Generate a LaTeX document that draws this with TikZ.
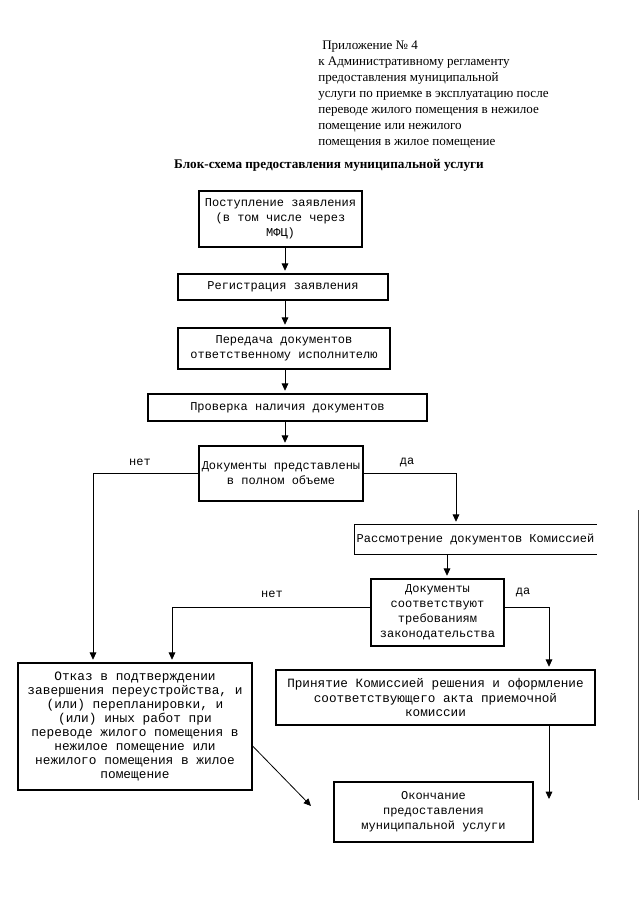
\documentclass[tikz,border=0pt]{standalone}
\usepackage{fontspec}
\setmainfont{Liberation Serif}
\setmonofont{Liberation Mono}
\usetikzlibrary{arrows.meta,positioning}
\tikzset{
  >={Triangle[length=5.5pt,width=5pt]},
  box/.style={draw, line width=0.9pt, align=center, inner sep=0pt,
              font=\ttfamily\fontsize{9}{11.2}\selectfont},
  openbox/.style={box, draw=none},
  boxline/.style={line width=0.9pt},
  boxsize/.style 2 args={minimum width=#1*0.75pt, minimum height=#2*0.75pt},
  lbl/.style={font=\ttfamily\fontsize{9}{11}\selectfont, inner sep=1pt},
  flow/.style={->, line width=0.6pt, shorten >=2pt},
  freeflow/.style={->, line width=0.6pt},
  edge/.style={line width=0.6pt, draw=black!75},
}
\begin{document}
\begin{tikzpicture}[x=0.75pt,y=-0.75pt]
  \useasboundingbox (0,0) rectangle (640,905);
  % header
  \node[anchor=north west, align=left, inner sep=0pt,
        font=\fontsize{9.8}{12}\selectfont] (head) at (318,41)
    {\hspace*{3pt}Приложение №~4\\
     к Административному регламенту\\
     предоставления муниципальной\\
     услуги по приемке в эксплуатацию после\\
     переводе жилого помещения в нежилое\\
     помещение или нежилого\\
     помещения в жилое помещение};
  \node[font=\bfseries\fontsize{9.9}{12}\selectfont] (title) at (329,165)
    {Блок-схема предоставления муниципальной услуги};

  % main column
  \node[box, boxsize={163}{56}] (recv) at (280.5,219)
    {Поступление заявления\\(в том числе через\\МФЦ)};
  \node[box, boxsize={210}{26}] (reg) at (283,287) {Регистрация заявления};
  \node[box, boxsize={212}{41}] (pass) at (284,348.5)
    {Передача документов\\ответственному исполнителю};
  \node[box, boxsize={279}{27}] (check) at (287.5,407.5) {Проверка наличия документов};
  \node[box, boxsize={164}{55}] (full) at (281,473.5)
    {Документы представлены\\в полном объеме};

  % right branch
  \node[openbox, boxsize={241}{29}] (review) at (475.5,539.5)
    {Рассмотрение документов Комиссией};
  \draw[boxline] (review.north east) -- (review.north west)
    -- (review.south west) -- (review.south east);
  \node[box, boxsize={133}{67}] (comply) at (437.5,612.5)
    {Документы\\соответствуют\\требованиям\\законодательства};
  \node[box, boxsize={319}{55}, font=\ttfamily\fontsize{9.5}{11.2}\selectfont] (accept) at (435.5,697.5)
    {Принятие Комиссией решения и оформление\\соответствующего акта приемочной\\комиссии};
  \node[box, boxsize={199}{60}] (finish) at (433.5,812)
    {Окончание\\предоставления\\муниципальной услуги};

  % refusal
  \node[box, boxsize={234}{127}, font=\ttfamily\fontsize{9.6}{10.5}\selectfont] (refuse) at (135,726.5)
    {Отказ в подтверждении\\завершения переустройства, и\\(или) перепланировки, и\\(или) иных работ при\\переводе жилого помещения в\\нежилое помещение или\\нежилого помещения в жилое\\помещение};

  % connectors
  \coordinate (spine) at (285,0);
  \draw[flow] (recv.south -| spine) -- (reg.north -| spine);
  \draw[flow] (reg.south -| spine) -- (pass.north -| spine);
  \draw[flow] (pass.south -| spine) -- (check.north -| spine);
  \draw[flow] (check.south -| spine) -- (full.north -| spine);

  \coordinate (noA) at (93,0);
  \coordinate (yesA) at (456,0);
  \draw[flow] (full.west) -- (full.west -| noA) -- (refuse.north -| noA);
  \draw[flow] (full.east) -- (full.east -| yesA) -- (review.north -| yesA);
  \node[lbl] (noAlbl) at (140,462) {нет};
  \node[lbl] (yesAlbl) at (407,462) {да};

  \coordinate (revaxis) at (447,0);
  \draw[flow] (review.south -| revaxis) -- (comply.north -| revaxis);

  \coordinate (noB) at (172,607);
  \coordinate (yesB) at (549,607);
  \draw[flow] (comply.west |- noB) -- (noB) -- (refuse.north -| noB);
  \draw[flow] (comply.east |- yesB) -- (yesB) -- (accept.north -| yesB);
  \node[lbl] (noBlbl) at (272,594) {нет};
  \node[lbl] (yesBlbl) at (523,592) {да};

  \coordinate (endR) at (549,799);
  \draw[freeflow] (accept.south -| endR) -- (endR);
  \coordinate (refOut) at (252,746);
  \coordinate (endL) at (311,806);
  \draw[freeflow] (refuse.east |- refOut) -- (endL);

  % page edge
  \draw[edge] (638,510) -- (638,800);
\end{tikzpicture}
\end{document}
